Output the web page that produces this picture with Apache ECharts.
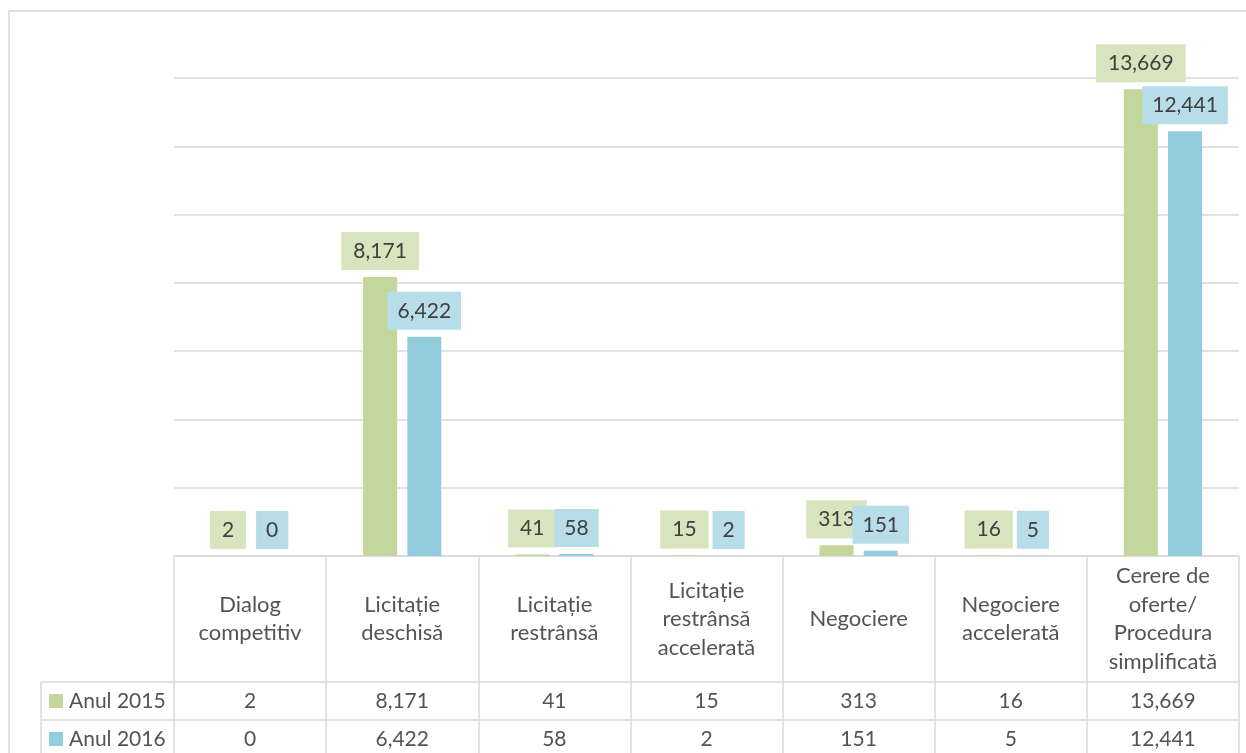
<!DOCTYPE html>
<html>
<head>
<meta charset="utf-8">
<script src="https://cdn.jsdelivr.net/npm/echarts@6/dist/echarts.min.js"></script>
<style>
html,body{margin:0;padding:0;background:#fff;}
#c{width:1246px;height:753px;}
</style>
</head>
<body>
<div id="c"></div>
<script>
const categories = [
  'Dialog\ncompetitiv',
  'Licitație\ndeschisă',
  'Licitație\nrestrânsă',
  'Licitație\nrestrânsă\naccelerată',
  'Negociere',
  'Negociere\naccelerată',
  'Cerere de\noferte/\nProcedura\nsimplificată'
];
const seriesNames = ['Anul 2015', 'Anul 2016'];
const values2015 = [2, 8171, 41, 15, 313, 16, 13669];
const values2016 = [0, 6422, 58, 2, 151, 5, 12441];

const fmt = v => String(v).replace(/\B(?=(\d{3})+(?!\d))/g, ',');
const FONT = 'Lato';
const LINE = '#d9d9d9';
const GREEN = '#c3d69b', BLUE = '#93cddd';
const GREEN_L = '#d7e4bd', BLUE_L = '#b7dee8';
const TXT = '#545454';

const chart = echarts.init(document.getElementById('c'));

const gridLeft = 174, gridRight = 7, gridTop = 78, gridBottom = 197;
const headerH = 126, rowH = 38;

function rowAxis(offset, vals) {
  return {
    type: 'category',
    data: categories,
    position: 'bottom',
    offset: offset,
    axisLine: { show: true, lineStyle: { color: LINE, width: 1.5 } },
    axisTick: { show: false },
    axisLabel: {
      formatter: (v, i) => fmt(vals[i]),
      margin: rowH / 2,
      verticalAlign: 'middle',
      color: TXT,
      fontFamily: FONT,
      fontSize: 21,
      interval: 0
    }
  };
}

const option = {
  animation: false,
  backgroundColor: '#ffffff',
  textStyle: { fontFamily: FONT },
  grid: { left: gridLeft, right: gridRight, top: gridTop, bottom: gridBottom, containLabel: false },
  legend: {
    data: seriesNames,
    orient: 'vertical',
    left: 49,
    top: 689,
    padding: 0,
    height: 80,
    itemWidth: 14,
    itemHeight: 14,
    itemGap: 14,
    icon: 'rect',
    textStyle: { fontFamily: FONT, fontSize: 21, color: TXT, lineHeight: 24, padding: [0, 0, 0, 1] }
  },
  xAxis: [
    {
      type: 'category',
      data: categories,
      position: 'bottom',
      axisLine: { show: true, lineStyle: { color: LINE, width: 1.5 } },
      axisTick: { show: true, length: 220, lineStyle: { color: LINE, width: 1.5 } },
      axisLabel: {
        interval: 0,
        margin: headerH / 2,
        verticalAlign: 'middle',
        color: TXT,
        fontFamily: FONT,
        fontSize: 22,
        lineHeight: 28.5,
        align: 'center'
      }
    },
    rowAxis(headerH, values2015),
    rowAxis(headerH + rowH, values2016)
  ],
  yAxis: {
    type: 'value',
    min: 0,
    max: 14000,
    interval: 2000,
    axisLabel: { show: false },
    axisLine: { show: false },
    axisTick: { show: false },
    splitLine: { show: true, lineStyle: { color: LINE, width: 1.5 } }
  },
  series: [
    {
      name: seriesNames[0],
      type: 'bar',
      xAxisIndex: 0,
      data: values2015,
      barWidth: 34,
      barGap: '30%',
      itemStyle: { color: GREEN },
      label: {
        show: true,
        position: 'top',
        distance: 7,
        formatter: p => fmt(p.value),
        backgroundColor: GREEN_L,
        padding: [9, 12, 9, 12],
        color: '#404040',
        fontFamily: FONT,
        fontSize: 21,
        lineHeight: 20
      }
    },
    {
      name: seriesNames[1],
      type: 'bar',
      xAxisIndex: 0,
      data: values2016,
      barWidth: 34,
      barGap: '30%',
      itemStyle: { color: BLUE },
      label: {
        show: true,
        position: 'top',
        distance: 7,
        formatter: p => fmt(p.value),
        backgroundColor: BLUE_L,
        padding: [9, 10, 9, 10],
        color: '#404040',
        fontFamily: FONT,
        fontSize: 21,
        lineHeight: 20
      }
    }
  ],
  graphic: [
    { type: 'rect', silent: true, shape: { x: 9, y: 11, width: 1400, height: 1000 },
      style: { fill: 'none', stroke: LINE, lineWidth: 1.5 }, z: -10 },
    { type: 'line', silent: true, shape: { x1: 41, y1: 682, x2: 174, y2: 682 }, style: { stroke: LINE, lineWidth: 1.5 } },
    { type: 'line', silent: true, shape: { x1: 41, y1: 720, x2: 174, y2: 720 }, style: { stroke: LINE, lineWidth: 1.5 } },
    { type: 'line', silent: true, shape: { x1: 41, y1: 682, x2: 41, y2: 760 }, style: { stroke: LINE, lineWidth: 1.5 } }
  ]
};

chart.setOption(option);
</script>
</body>
</html>
